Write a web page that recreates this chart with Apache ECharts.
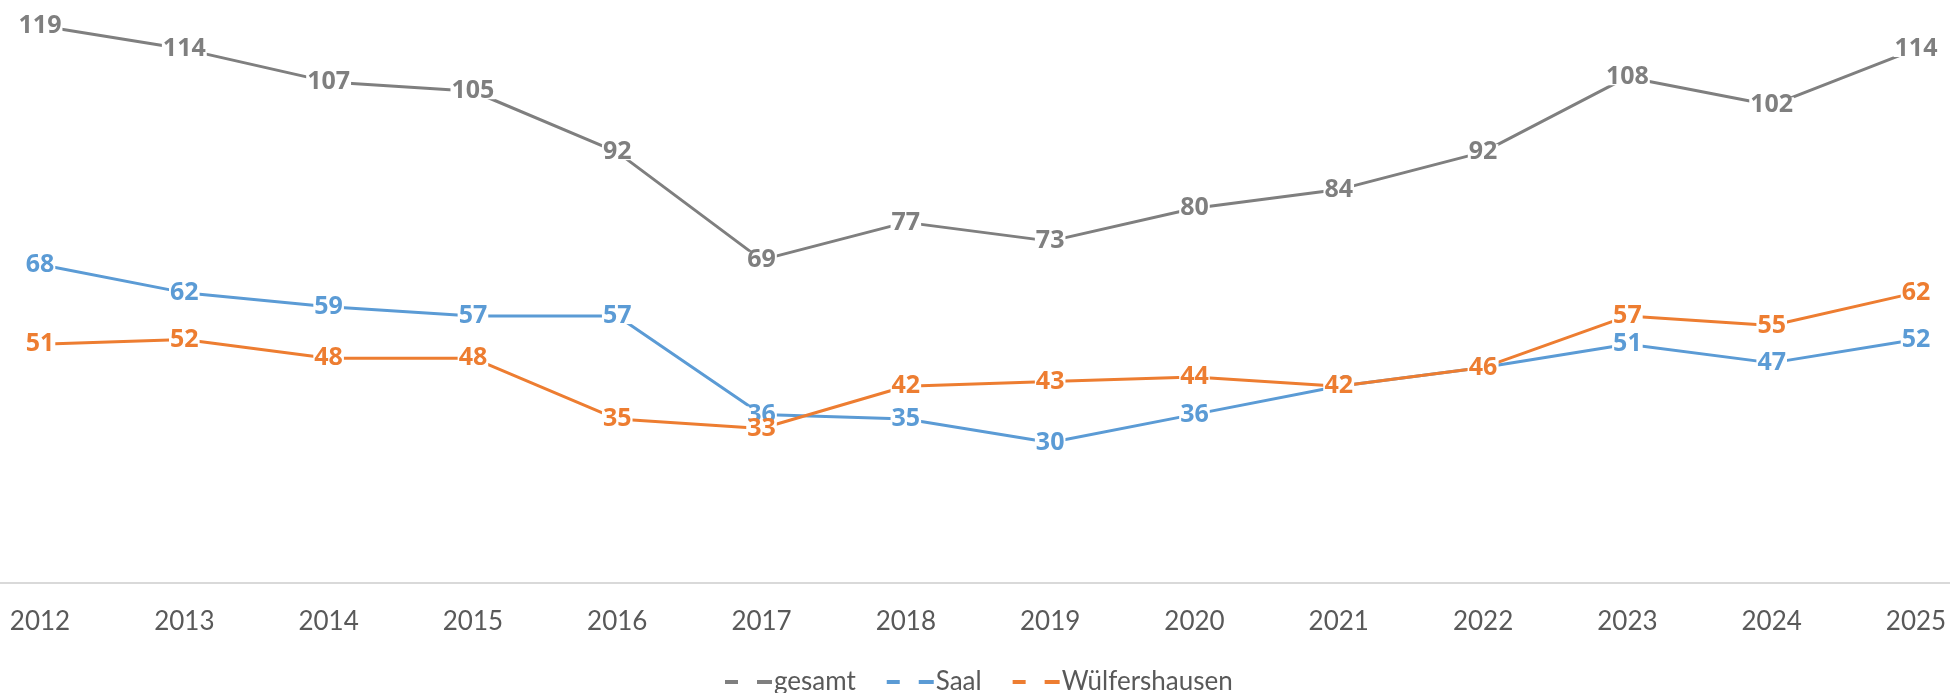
<!DOCTYPE html>
<html>
<head>
<meta charset="utf-8">
<script src="https://cdn.jsdelivr.net/npm/echarts@6/dist/echarts.min.js"></script>
<style>
  html, body { margin: 0; padding: 0; background: #fff; }
  #container1 { width: 1950px; height: 693px; }
</style>
</head>
<body>
<div id="container1"></div>
<script>
var years = ['2012', '2013', '2014', '2015', '2016', '2017', '2018', '2019', '2020', '2021', '2022', '2023', '2024', '2025'];
var gesamt = [119, 114, 107, 105, 92, 69, 77, 73, 80, 84, 92, 108, 102, 114];
var saal = [68, 62, 59, 57, 57, 36, 35, 30, 36, 42, 46, 51, 47, 52];
var wuelfershausen = [51, 52, 48, 48, 35, 33, 42, 43, 44, 42, 46, 57, 55, 62];

var dom = document.getElementById("container1");
var myChart = echarts.init(dom);
var font = 'Lato, "Open Sans", sans-serif';
var labelFont = '"Open Sans", sans-serif';
var dashIcon = 'path://M0,0h13v4h-13z M32,0h15v4h-15z';

function lineSeries(name, data, color) {
    return {
        name: name,
        type: 'line',
        data: data,
        symbol: 'circle',
        symbolSize: 0.1,
        showSymbol: true,
        lineStyle: { width: 3, color: color },
        itemStyle: { color: color },
        label: {
            show: true,
            position: 'inside',
            color: color,
            fontFamily: labelFont,
            fontWeight: 700,
            fontSize: 25,
            lineHeight: 16,
            backgroundColor: '#fff',
            padding: [0, 1]
        }
    };
}

var option = {
    animation: false,
    color: ['#7f7f7f', '#5b9bd5', '#ed7d31'],
    grid: [
        { left: 40, right: 34, top: 21, bottom: 110 },
        { left: 0, right: 0, top: 21, bottom: 110 }
    ],
    legend: {
        left: 725,
        top: 669,
        padding: 0,
        itemWidth: 47,
        itemHeight: 4,
        itemGap: 31,
        icon: dashIcon,
        symbolKeepAspect: false,
        textStyle: { color: '#595959', fontSize: 26, fontFamily: font, padding: [0, 0, 0, -3] },
        data: ['gesamt', 'Saal', 'Wülfershausen']
    },
    xAxis: [
        {
            type: 'category',
            gridIndex: 0,
            boundaryGap: false,
            data: years,
            axisLine: { show: false },
            axisTick: { show: false },
            axisLabel: { color: '#595959', fontSize: 26, fontFamily: font, margin: 26 }
        },
        {
            // full-width baseline only
            type: 'value',
            gridIndex: 1,
            min: 0,
            max: 1,
            axisLine: { show: true, lineStyle: { color: '#d9d9d9', width: 2 } },
            axisTick: { show: false },
            axisLabel: { show: false },
            splitLine: { show: false }
        }
    ],
    yAxis: [
        {
            type: 'value',
            gridIndex: 0,
            show: false,
            min: 0,
            max: 120,
            splitLine: { show: false }
        },
        {
            type: 'value',
            gridIndex: 1,
            show: false,
            splitLine: { show: false }
        }
    ],
    series: [
        lineSeries('gesamt', gesamt, '#7f7f7f'),
        lineSeries('Saal', saal, '#5b9bd5'),
        lineSeries('Wülfershausen', wuelfershausen, '#ed7d31')
    ]
};

if (option && typeof option === "object") {
    myChart.setOption(option, true);
}
</script>
</body>
</html>
